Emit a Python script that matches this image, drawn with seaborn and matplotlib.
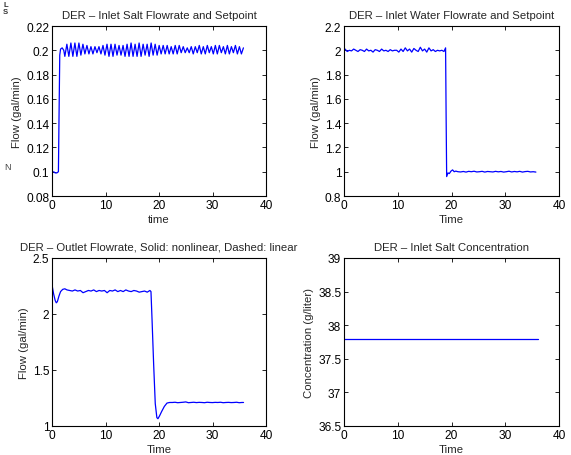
import matplotlib
matplotlib.use("Agg")
import matplotlib.pyplot as plt
import seaborn as sns

# ---------------- data ----------------
# Inlet salt flow (gal/min): step from 0.1 to 0.2 with a sustained oscillation
salt_t = [0.3, 0.6, 0.9, 1.2, 1.3, 1.45, 1.6, 1.9, 2.2,
          2.40, 2.78, 3.15, 3.53, 3.90, 4.28, 4.65, 5.03, 5.40, 5.78,
          6.15, 6.53, 6.90, 7.28, 7.65, 8.03, 8.40, 8.78, 9.15, 9.53,
          9.90, 10.28, 10.65, 11.03, 11.40, 11.78, 12.15, 12.53, 12.90, 13.28,
          13.65, 14.03, 14.40, 14.78, 15.15, 15.53, 15.90, 16.28, 16.65, 17.03,
          17.40, 17.78, 18.15, 18.53, 18.90, 19.28, 19.65, 20.03, 20.40, 20.78,
          21.15, 21.53, 21.90, 22.28, 22.65, 23.03, 23.40, 23.78, 24.15, 24.53,
          24.90, 25.28, 25.65, 26.03, 26.40, 26.78, 27.15, 27.53, 27.90, 28.28,
          28.65, 29.03, 29.40, 29.78, 30.15, 30.53, 30.90, 31.28, 31.65, 32.03,
          32.40, 32.78, 33.15, 33.53, 33.90, 34.28, 34.65, 35.03, 35.40, 35.78]
salt_flow = [0.100, 0.099, 0.099, 0.100, 0.140, 0.196, 0.201, 0.202, 0.200,
             0.195, 0.205, 0.195, 0.206, 0.195, 0.206, 0.195, 0.206, 0.196, 0.205,
             0.197, 0.204, 0.197, 0.203, 0.197, 0.203, 0.198, 0.203, 0.197, 0.204,
             0.196, 0.205, 0.195, 0.205, 0.195, 0.205, 0.196, 0.204, 0.196, 0.204,
             0.195, 0.205, 0.195, 0.206, 0.195, 0.205, 0.195, 0.206, 0.195, 0.205,
             0.196, 0.205, 0.195, 0.206, 0.196, 0.205, 0.196, 0.204, 0.197, 0.204,
             0.197, 0.204, 0.197, 0.203, 0.197, 0.204, 0.197, 0.204, 0.198, 0.203,
             0.198, 0.202, 0.198, 0.203, 0.197, 0.203, 0.198, 0.204, 0.197, 0.203,
             0.197, 0.204, 0.198, 0.203, 0.197, 0.204, 0.197, 0.204, 0.198, 0.203,
             0.197, 0.204, 0.197, 0.203, 0.198, 0.204, 0.197, 0.203, 0.197, 0.202]

# Inlet water flow (gal/min): 2.0 stepping down to 1.0 at t = 19
water_t = [0.2, 0.6, 1.0, 1.4, 1.8, 2.2, 2.6, 3.0, 3.4, 3.8, 4.2, 4.6, 5.0, 5.4,
           5.8, 6.2, 6.6, 7.0, 7.4, 7.8, 8.2, 8.6, 9.0, 9.4, 9.8, 10.2, 10.6,
           11.0, 11.4, 11.8, 12.2, 12.6, 13.0, 13.4, 13.8, 14.2, 14.6, 15.0, 15.4,
           15.8, 16.2, 16.6, 17.0, 17.4, 17.8, 18.2, 18.6, 18.9,
           19.0, 19.1, 19.35, 19.6, 19.9, 20.2, 20.5, 20.8,
           21.2, 21.7, 22.2, 22.7, 23.2, 23.7, 24.2, 24.7, 25.2, 25.7, 26.2, 26.7,
           27.2, 27.7, 28.2, 28.7, 29.2, 29.7, 30.2, 30.7, 31.2, 31.7, 32.2, 32.7,
           33.2, 33.7, 34.2, 34.7, 35.2, 35.7]
water_flow = [2.01, 1.99, 2.00, 1.995, 2.01, 2.00, 1.99, 2.005, 2.00, 1.99, 2.01,
              1.995, 2.00, 1.985, 2.005, 2.00, 1.99, 2.01, 1.995, 2.00, 1.99, 2.005,
              1.995, 2.00, 2.00, 1.985, 2.01, 1.99, 2.02, 1.995, 2.01, 1.985, 2.015,
              2.00, 1.99, 2.025, 1.995, 2.01, 1.985, 2.02, 1.995, 2.005, 1.99, 2.00,
              1.995, 2.00, 1.99, 2.02,
              1.45, 0.96, 0.99, 0.985, 1.005, 1.015, 1.00, 1.005,
              1.00, 0.998, 1.002, 0.997, 1.003, 1.00, 1.004, 0.998, 1.00, 1.003,
              0.997, 1.002, 1.00, 0.998, 1.003, 0.999, 1.002, 0.997, 1.00, 1.004,
              0.998, 1.002, 0.999, 1.003, 0.997, 1.001, 1.003, 0.998, 1.00, 0.997]

# Outlet flow (gal/min)
outlet_t = [0.0, 0.3, 0.6, 0.8, 1.0, 1.3, 1.6, 2.0, 2.4, 2.8, 3.3, 3.8, 4.3, 4.8,
            5.3, 5.8, 6.3, 6.8, 7.3, 7.8, 8.3, 8.8, 9.3, 9.8, 10.3, 10.8, 11.3,
            11.8, 12.3, 12.8, 13.3, 13.8, 14.3, 14.8, 15.3, 15.8, 16.3, 16.8,
            17.3, 17.8, 18.3, 18.5, 18.7, 19.0, 19.3, 19.6, 19.8, 20.1, 20.5,
            21.0, 21.5, 22.0, 22.5, 23.0, 23.5, 24.0, 24.5, 25.0, 25.5, 26.0,
            26.5, 27.0, 27.5, 28.0, 28.5, 29.0, 29.5, 30.0, 30.5, 31.0, 31.5,
            32.0, 32.5, 33.0, 33.5, 34.0, 34.5, 35.0, 35.5, 35.8]
outlet_flow = [2.26, 2.18, 2.12, 2.10, 2.11, 2.16, 2.20, 2.22, 2.225, 2.215, 2.21,
               2.205, 2.215, 2.205, 2.21, 2.19, 2.20, 2.21, 2.205, 2.215, 2.20,
               2.21, 2.205, 2.21, 2.19, 2.21, 2.205, 2.215, 2.20, 2.21, 2.20,
               2.215, 2.205, 2.20, 2.21, 2.205, 2.195, 2.20, 2.205, 2.195, 2.21,
               2.20, 1.95, 1.55, 1.20, 1.075, 1.065, 1.09, 1.13, 1.175, 1.205,
               1.21, 1.21, 1.212, 1.208, 1.21, 1.212, 1.215, 1.208, 1.21, 1.212,
               1.209, 1.211, 1.21, 1.208, 1.212, 1.21, 1.209, 1.211, 1.21, 1.212,
               1.208, 1.21, 1.211, 1.209, 1.21, 1.212, 1.208, 1.21, 1.21]

# Inlet salt concentration (g/liter)
conc_t = [0.0, 36.0]
conc = [37.8, 37.8]

x_ticks = [0, 10, 20, 30, 40]
salt_yticks = [0.08, 0.1, 0.12, 0.14, 0.16, 0.18, 0.2, 0.22]
water_yticks = [0.8, 1.0, 1.2, 1.4, 1.6, 1.8, 2.0, 2.2]
outlet_yticks = [1.0, 1.5, 2.0, 2.5]
conc_yticks = [36.5, 37.0, 37.5, 38.0, 38.5, 39.0]

# ---------------- style ----------------
sns.set_style("ticks")
plt.rcParams["font.family"] = ["Liberation Sans", "DejaVu Sans"]
plt.rcParams["axes.linewidth"] = 0.8

TICK_FS = 8.6
TEXT_FS = 8.2
LINE = (0, 0, 1)

fig = plt.figure(figsize=(5.71, 4.56), dpi=100)
W, H = 571, 456


def add_axes(left, top, right, bottom):
    return fig.add_axes([left / W, 1 - bottom / H, (right - left) / W, (bottom - top) / H])


def fmt(v):
    return f"{v:g}"


def style(ax, yticks, title, xlabel, ylabel):
    ax.set_xlim(0, 40)
    ax.set_ylim(yticks[0], yticks[-1])
    ax.set_xticks(x_ticks)
    ax.set_xticklabels([fmt(v) for v in x_ticks], fontsize=TICK_FS)
    ax.set_yticks(yticks)
    ax.set_yticklabels([fmt(v) for v in yticks], fontsize=TICK_FS)
    ax.tick_params(direction="in", top=True, right=True, length=3, width=0.6,
                   pad=2, colors="black")
    for s in ax.spines.values():
        s.set_visible(True)
        s.set_color("black")
    ax.set_title(title, fontsize=TEXT_FS, pad=6)
    ax.set_xlabel(xlabel, fontsize=TEXT_FS, labelpad=2)
    ax.set_ylabel(ylabel, fontsize=TEXT_FS, labelpad=3)


ax1 = add_axes(52, 27, 266, 197)
ax2 = add_axes(344, 27, 559, 197)
ax3 = add_axes(52, 259, 266, 427)
ax4 = add_axes(344, 259, 559, 427)

sns.lineplot(x=salt_t, y=salt_flow, ax=ax1, color=LINE, lw=0.9, sort=False, estimator=None)
sns.lineplot(x=water_t, y=water_flow, ax=ax2, color=LINE, lw=0.9, sort=False, estimator=None)
sns.lineplot(x=outlet_t, y=outlet_flow, ax=ax3, color=LINE, lw=0.9, sort=False, estimator=None)
sns.lineplot(x=conc_t, y=conc, ax=ax4, color=LINE, lw=0.9, sort=False, estimator=None)

style(ax1, salt_yticks, "DER \u2013 Inlet Salt Flowrate and Setpoint", "time", "Flow (gal/min)")
style(ax2, water_yticks, "DER \u2013 Inlet Water Flowrate and Setpoint", "Time", "Flow (gal/min)")
style(ax3, outlet_yticks, "DER \u2013 Outlet Flowrate, Solid: nonlinear, Dashed: linear", "Time", "Flow (gal/min)")
style(ax4, conc_yticks, "DER \u2013 Inlet Salt Concentration", "Time", "Concentration (g/liter)")

# small marks at the left margin
fig.text(3 / W, 1 - 2 / H, "L\nS", fontsize=5.5, weight="bold", color="#333333",
         va="top", ha="left", linespacing=0.9)
fig.text(4 / W, 1 - 168 / H, "N", fontsize=6.5, color="#444444", va="center", ha="left")

fig.savefig("out.png", dpi=100)
